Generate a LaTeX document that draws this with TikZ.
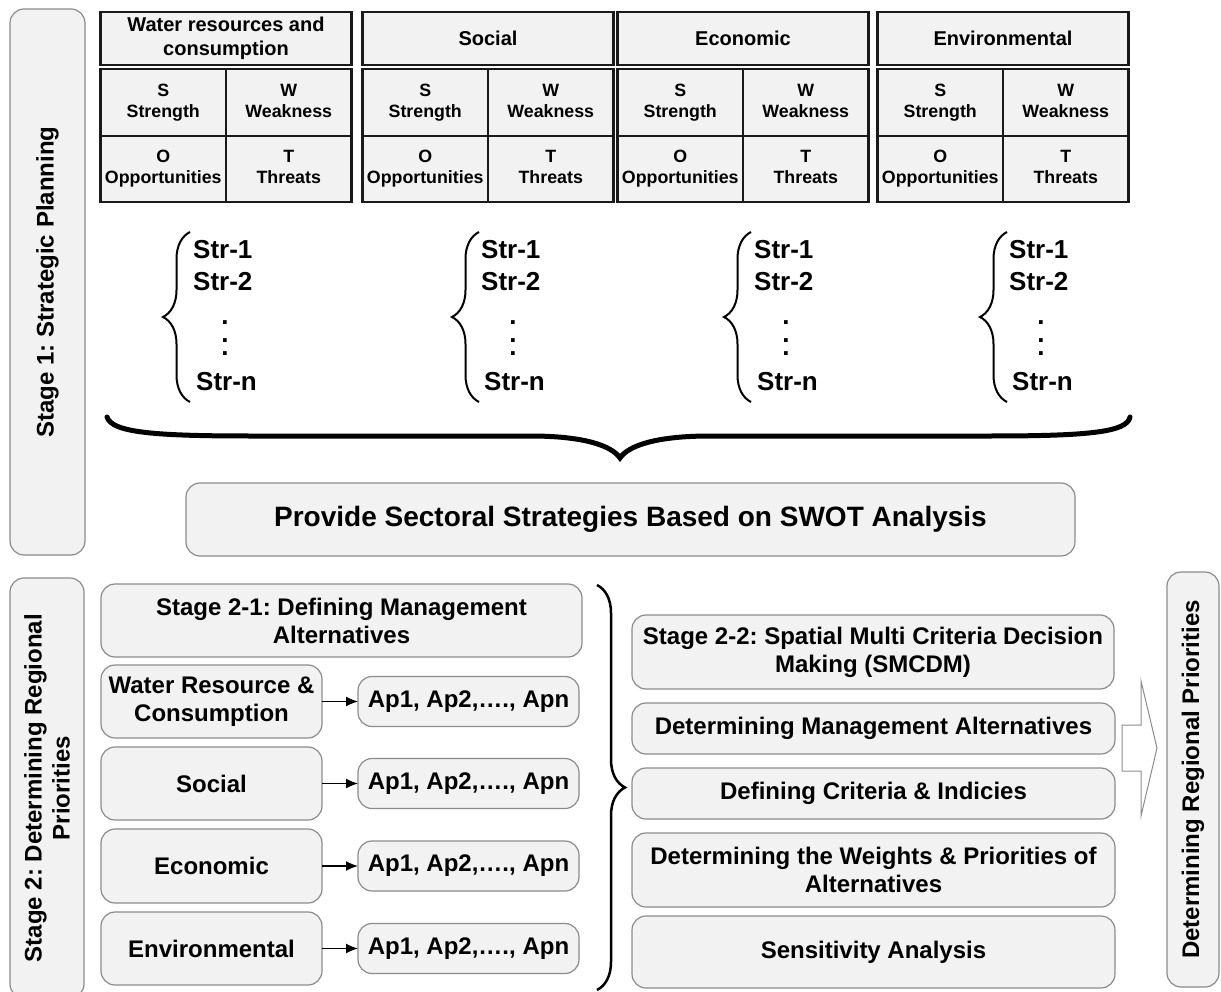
\documentclass[tikz,border=0pt]{standalone}
\usepackage{fontspec}
\setmainfont{Liberation Sans}
\usetikzlibrary{decorations.pathreplacing,arrows.meta}
\definecolor{boxfill}{HTML}{F2F2F2}
\definecolor{boxline}{HTML}{8C8C8C}
\definecolor{gridline}{HTML}{1A1A1A}
\frenchspacing

% one SWOT table: name prefix, left edge, header text
\newcommand\swotblock[3]{%
  \node[head] (#1h) at (#2+125.5,38.5) {#3};
  \node[cell, minimum height=67pt] (#1s) at (#2+62.75,102.5) {\strut S\\\strut Strength};
  \node[cell, minimum height=67pt] (#1w) at (#2+188.25,102.5) {\strut W\\\strut Weakness};
  \node[cell, minimum height=66pt] (#1o) at (#2+62.75,169) {\strut O\\\strut Opportunities};
  \node[cell, minimum height=66pt] (#1t) at (#2+188.25,169) {\strut T\\\strut Threats};
}
% one list of strategies with its brace: name prefix, brace x, text x
\newcommand\strgroup[3]{%
  \coordinate (#1bb) at (#2,402);
  \coordinate (#1bt) at (#2,232);
  \draw[sbrace] (#1bb) -- (#1bt);
  \node[strtxt] (#1a) at (#3,250) {Str-1};
  \node[strtxt] (#1b) at (#3,282) {Str-2};
  \node[dotstack] (#1d) at (#3+32,338.5) {.\llap{\raisebox{13pt}{.}}\llap{\raisebox{31pt}{.}}};
  \node[strtxt] (#1n) at (#3+3,382) {Str-n};
}

\begin{document}
\begin{tikzpicture}[x=1pt,y=-1pt,
  rbox/.style={draw=boxline, fill=boxfill, line width=1.2pt, rounded corners=14pt,
    inner sep=0pt, outer sep=0pt, align=center, font=\fontsize{24}{28}\selectfont\bfseries},
  head/.style={draw=gridline, fill=boxfill, line width=2.5pt, inner sep=0pt, align=center,
    minimum width=251pt, minimum height=53pt, font=\fontsize{20}{24}\selectfont\bfseries},
  cell/.style={draw=gridline, fill=boxfill, line width=2.5pt, inner sep=0pt, align=center,
    minimum width=125.5pt, font=\fontsize{17.8}{21}\selectfont\bfseries},
  strtxt/.style={anchor=west, inner sep=0pt, font=\fontsize{26}{30}\selectfont\bfseries},
  dotstack/.style={inner sep=0pt, font=\fontsize{26}{30}\selectfont\bfseries},
  sbrace/.style={decorate, decoration={brace, amplitude=27pt}, line width=2pt},
  link/.style={-{Latex[length=12pt,width=10pt]}, line width=1.5pt},
]
\useasboundingbox (0,0) rectangle (1221,992);
\fill[white] (0,0) rectangle (1221,992);

% ---------- Stage 1 ----------
\node[rbox, rotate=90, minimum width=546pt, minimum height=75pt] (st1) at (47.5,282)
  {Stage 1: Strategic Planning};

\swotblock{wr}{100.5}{Water resources and\\consumption}
\swotblock{so}{362.5}{Social}
\swotblock{ec}{617.5}{Economic}
\swotblock{en}{877.5}{Environmental}

\strgroup{g1}{190}{193}
\strgroup{g2}{479}{481}
\strgroup{g3}{751}{754}
\strgroup{g4}{1007}{1009}

% large brace gathering the four strategy lists
\draw[line width=5pt, line cap=round]
  (107,417) .. controls (112,432) and (150,436) .. (250,436) -- (530,436)
  .. controls (585,436) and (612,446) .. (620,458)
  .. controls (628,446) and (655,436) .. (710,436) -- (990,436)
  .. controls (1090,436) and (1127,432) .. (1130,417);

\node[rbox, minimum width=889pt, minimum height=73pt,
  font=\fontsize{28}{32}\selectfont\bfseries] (swot) at (630.5,519.5)
  {Provide Sectoral Strategies Based on SWOT Analysis};

% ---------- Stage 2 ----------
\node[rbox, rotate=90, minimum width=420pt, minimum height=74pt] (st2) at (47,788)
  {Stage 2: Determining Regional\\Priorities};

\node[rbox, minimum width=481pt, minimum height=73pt] (s21) at (341.5,620.5)
  {Stage 2-1: Defining Management\\Alternatives};

\node[rbox, minimum width=221pt, minimum height=73pt] (wrc) at (211.5,701.5)
  {Water Resource \&\\Consumption};
\node[rbox, minimum width=221pt, minimum height=73pt] (soc) at (211.5,783.5) {Social};
\node[rbox, minimum width=221pt, minimum height=74pt] (eco) at (211.5,866) {Economic};
\node[rbox, minimum width=221pt, minimum height=73pt] (env) at (211.5,948.5) {Environmental};

\node[rbox, minimum width=221pt, minimum height=50pt] (ap1) at (468.5,701.5) {Ap1, Ap2,…., Apn};
\node[rbox, minimum width=221pt, minimum height=50pt] (ap2) at (468.5,783.5) {Ap1, Ap2,…., Apn};
\node[rbox, minimum width=221pt, minimum height=50pt] (ap3) at (468.5,866) {Ap1, Ap2,…., Apn};
\node[rbox, minimum width=221pt, minimum height=50pt] (ap4) at (468.5,948.5) {Ap1, Ap2,…., Apn};

\draw[link] (wrc.east) -- (ap1.west);
\draw[link] (soc.east) -- (ap2.west);
\draw[link] (eco.east) -- (ap3.west);
\draw[link] (env.east) -- (ap4.west);

% brace joining the two sub-stages
\coordinate (rbt) at (597,585);
\coordinate (rbb) at (597,990);
\draw[decorate, decoration={brace, amplitude=28pt}, line width=2.5pt] (rbt) -- (rbb);

\node[rbox, minimum width=482pt, minimum height=74pt] (s22) at (873,652)
  {Stage 2-2: Spatial Multi Criteria Decision\\Making (SMCDM)};
\node[rbox, minimum width=483pt, minimum height=51pt] (dma) at (873.5,728.5)
  {Determining Management Alternatives};
\node[rbox, minimum width=483pt, minimum height=51pt] (dci) at (873.5,793.5)
  {Defining Criteria \& Indicies};
\node[rbox, minimum width=483pt, minimum height=74pt] (dwp) at (873.5,870)
  {Determining the Weights \& Priorities of\\Alternatives};
\node[rbox, minimum width=483pt, minimum height=72pt] (sa) at (873.5,952)
  {Sensitivity Analysis};

% block arrow towards the result
\draw[draw=boxline, fill=white, line width=1pt, line join=miter]
  (1122,725) -- (1141,725) -- (1141,681) -- (1157,748) -- (1141,816)
  -- (1141,771) -- (1122,771) -- cycle;

\node[rbox, rotate=90, minimum width=415pt, minimum height=52pt] (rp) at (1193,779.5)
  {Determining Regional Priorities};
\end{tikzpicture}
\end{document}
